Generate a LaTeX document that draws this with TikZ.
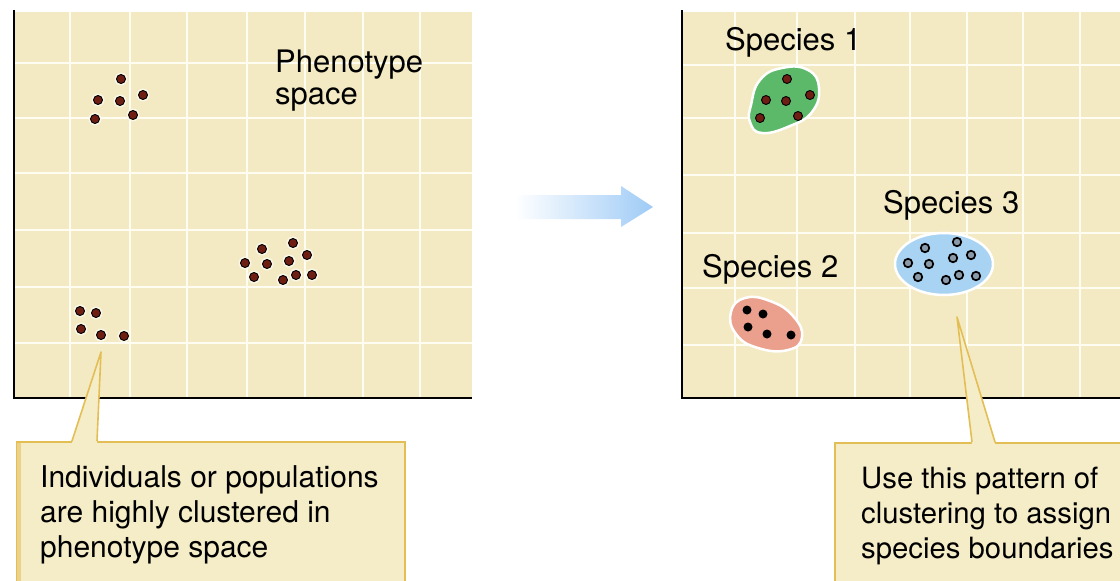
\documentclass[tikz,border=0pt]{standalone}
\usepackage{fontspec}
\setmainfont{TeX Gyre Heros}
\usetikzlibrary{calc}
\definecolor{panelbg}{HTML}{F3EAC3}
\definecolor{gridw}{HTML}{FFFDF2}
\definecolor{callfill}{HTML}{F5EDC8}
\definecolor{callline}{HTML}{E3BE55}
\definecolor{dotred}{HTML}{6E1E12}
\definecolor{blobgreen}{HTML}{5DB96A}
\definecolor{blobpink}{HTML}{EBA08E}
\definecolor{blobblue}{HTML}{A9D3F2}
\definecolor{arrowblue}{HTML}{9FCBF6}
\definecolor{ringin}{HTML}{8A9AA8}
\tikzset{
  axis/.style={line width=1.8pt, black},
  gridline/.style={gridw, line width=2.6pt},
  label/.style={anchor=base west, inner sep=0pt, font=\fontsize{31}{35}\selectfont},
  calltext/.style={anchor=base west, inner sep=0pt, align=left, font=\fontsize{30}{35}\selectfont},
  calltextR/.style={anchor=base west, inner sep=0pt, align=left, font=\fontsize{29.3}{35}\selectfont},
  callbox/.style={fill=callfill, draw=callline, line width=2pt},
  wedge/.style={fill=callfill, draw=callline, line width=1.6pt, line join=round},
  reddot/.style={circle, fill=dotred, draw=black, line width=0.9pt, minimum size=9pt, inner sep=0pt},
  blackdot/.style={circle, fill=black, minimum size=9pt, inner sep=0pt},
  ringdot/.style={circle, fill=ringin, draw=black, line width=1.7pt, minimum size=8.5pt, inner sep=0pt},
  halo/.style={circle, fill=white!60!panelbg, minimum size=13pt, inner sep=0pt},
  blob/.style={draw=white, line width=2.5pt}
}
\begin{document}
\begin{tikzpicture}[x=1pt,y=-1pt]
\useasboundingbox (0,0) rectangle (1120,581);
\fill[white] (0,0) rectangle (1120,581);

% ---------- left panel ----------
\fill[panelbg] (14,12) rectangle (472,398);
\foreach \gx in {70,130,187,247,305,363,420}
  \draw[gridline] (\gx,12) -- (\gx,397);
\foreach \gy in {63,118,173,230,287,343}
  \draw[gridline] (15,\gy) -- (472,\gy);
\draw[axis] (14,10) -- (14,398) -- (472,398);

% ---------- right panel ----------
\fill[panelbg] (682,12) rectangle (1120,398);
\foreach \gx in {735,797,855,910,967,1023,1080}
  \draw[gridline] (\gx,12) -- (\gx,397);
\foreach \gy in {65,118,175,233,288,345}
  \draw[gridline] (683,\gy) -- (1120,\gy);
\draw[axis] (682,10) -- (682,398) -- (1120,398);

% ---------- labels ----------
\node[label] (pheno) at (275,72) {Phenotype};
\node[label] (space) at (275,104) {space};
\node[label] (sp1) at (725,50) {Species 1};
\node[label] (sp2) at (702,277) {Species 2};
\node[label] (sp3) at (883,213) {Species 3};

% ---------- left clusters ----------
\foreach \i/\p in {a1/{(121,79)},a2/{(98,100)},a3/{(120,101)},a4/{(143,95)},a5/{(95,119)},a6/{(133,115)},
  b1/{(262,249)},b2/{(293,243)},b3/{(307,255)},b4/{(245,263)},b5/{(267,264)},b6/{(289,261)},b7/{(254,277)},b8/{(283,280)},b9/{(296,275)},b10/{(312,275)},
  c1/{(80,311)},c2/{(96,313)},c3/{(81,329)},c4/{(101,335)},c5/{(124,336)}}
  \node[halo] (h\i) at \p {};
\foreach \i/\p in {a1/{(121,79)},a2/{(98,100)},a3/{(120,101)},a4/{(143,95)},a5/{(95,119)},a6/{(133,115)},
  b1/{(262,249)},b2/{(293,243)},b3/{(307,255)},b4/{(245,263)},b5/{(267,264)},b6/{(289,261)},b7/{(254,277)},b8/{(283,280)},b9/{(296,275)},b10/{(312,275)},
  c1/{(80,311)},c2/{(96,313)},c3/{(81,329)},c4/{(101,335)},c5/{(124,336)}}
  \node[reddot] (d\i) at \p {};

% ---------- blobs ----------
\draw[blob, fill=blobgreen] plot[smooth cycle, tension=0.8] coordinates
  {(751,105) (760,80) (782,68) (808,70) (819,88) (812,112) (790,126) (762,133) (750,122)};
\draw[blob, fill=blobpink] plot[smooth cycle, tension=0.8] coordinates
  {(731,312) (745,298) (770,301) (793,316) (802,337) (788,350) (758,348) (736,334)};
\draw[blob, fill=blobblue] (944,264) ellipse [x radius=49, y radius=31];

\foreach \i/\p in {g1/{(787,79)},g2/{(766,100)},g3/{(786,101)},g4/{(810,95)},g5/{(760,118)},g6/{(798,116)}}
  \node[reddot] (d\i) at \p {};
\foreach \i/\p in {p1/{(747,310)},p2/{(763,314)},p3/{(748,327)},p4/{(767,334)},p5/{(791,335)}}
  \node[blackdot] (d\i) at \p {};
\foreach \i/\p in {s1/{(957,242)},s2/{(925,248)},s3/{(971,255)},s4/{(908,263)},s5/{(929,264)},s6/{(953,258)},s7/{(918,277)},s8/{(946,280)},s9/{(959,275)},s10/{(976,276)}}
  \node[ringdot] (d\i) at \p {};

% ---------- central arrow ----------
\shade[left color=white, right color=arrowblue, shading angle=90]
  (515,195) -- (621,195) -- (621,186) -- (653,207) -- (621,227) -- (621,219) -- (515,219) -- cycle;

% ---------- callouts ----------
\draw[callbox] (17,442) rectangle (405,600);
\fill[callline!70] (17,443) rectangle (21,600);
\draw[callbox] (835,443) rectangle (1130,600);

\coordinate (tipL) at (101,352);
\coordinate (tipR) at (957,317);
\fill[callfill] (tipL) -- (72,443) -- (97,443) -- cycle;
\draw[wedge] (72,441) -- (tipL) -- (97,441);
\fill[callfill] (tipR) -- (972,444) -- (995,444) -- cycle;
\draw[wedge] (972,442) -- (tipR) -- (995,442);

\node[calltext] (ctL) at (40,557) {Individuals or populations\\are highly clustered in\\phenotype space};
\node[calltextR] (ctR) at (861,558) {Use this pattern of\\clustering to assign\\species boundaries};
\end{tikzpicture}
\end{document}
